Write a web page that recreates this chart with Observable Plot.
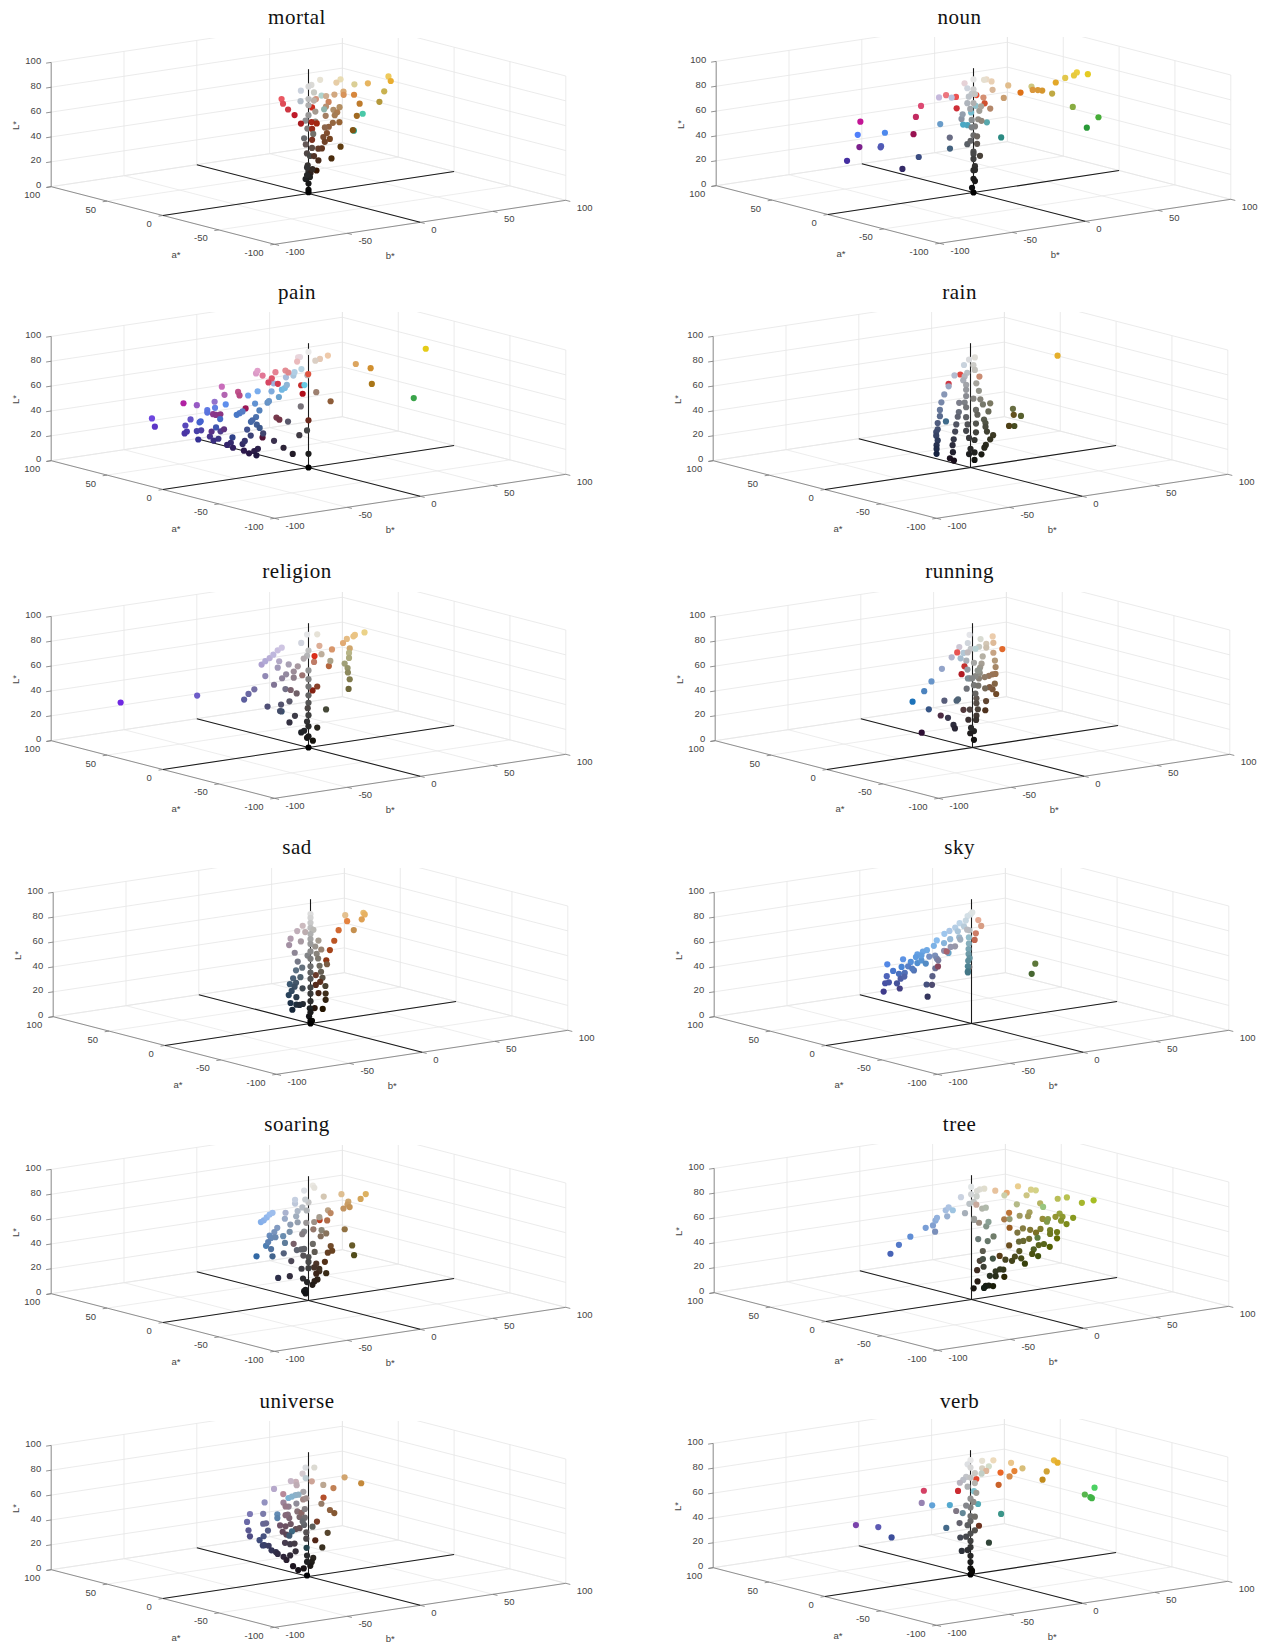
<!DOCTYPE html>
<html>
<head>
<meta charset="utf-8">
<script src="https://cdn.jsdelivr.net/npm/d3@7"></script>
<script src="https://cdn.jsdelivr.net/npm/@observablehq/plot@0.6"></script>
<style>
html,body{margin:0;padding:0;background:#fff;}
#page{position:relative;width:1265px;height:1644px;overflow:hidden;background:#fff;}
.panel{position:absolute;}
.ttl{position:absolute;font-family:"Liberation Serif",serif;font-size:21px;color:#111;transform:translate(-50%,-50%);letter-spacing:.5px;white-space:nowrap;}
</style>
</head>
<body>
<div id="page"></div>
<script>
// Every point is [L*, a*, b*].
const mortal=[[83,4,58],[75,15,68],[73,0,52],[64,3,51],[77,12,50],[83,-2,30],[88,0,22],[84,5,23],[90,0,8],[87,0,2],[86,0,0],[84,-1,-6],[81,-1,3],[82,-13,-1],[73,9,19],[72,12,27],[73,13,34],[67,22,41],[64,27,52],[58,22,52],[73,-42,5],[50,18,47],[59,-38,2],[40,15,42],[47,18,35],[48,16,29],[45,17,27],[46,14,22],[62,10,29],[61,9,24],[56,16,32],[55,13,28],[56,12,21],[62,25,33],[63,13,22],[71,-14,0],[67,22,22],[73,3,6],[76,-2,-7],[76,0,0],[58,58,26],[54,58,27],[48,60,32],[42,62,38],[46,62,50],[71,0,0],[64,3,7],[63,0,0],[59,0,-2],[56,3,7],[37,55,37],[38,52,42],[37,50,44],[52,1,0],[35,45,37],[45,0,-3],[47,1,4],[39,20,28],[37,18,24],[34,20,30],[33,18,25],[31,32,27],[38,5,2],[34,6,7],[29,13,32],[28,18,23],[29,16,19],[31,4,2],[30,0,1],[25,12,13],[21,12,25],[21,12,16],[22,2,1],[18,0,0],[12,15,17],[14,6,6],[13,0,1],[12,0,-2],[8,0,0],[3,0,0],[1,0,0],[18,3,5],[21,0,-1],[15,0,-1]];
const noun=[[84,0,71],[82,0,69],[82,-2,77],[81,0,63],[73,15,68],[80,-5,36],[70,0,54],[67,18,61],[68,18,58],[68,20,56],[60,40,63],[79,8,30],[68,12,30],[77,9,20],[85,6,17],[88,4,12],[89,1,8],[66,-25,49],[63,-48,49],[56,-48,41],[52,-30,-4],[64,-25,-10],[75,-15,-10],[72,-20,-17],[63,-22,-21],[64,-22,-24],[62,-8,-29],[66,25,26],[60,15,23],[52,50,46],[56,60,48],[57,60,34],[47,62,36],[64,48,18],[77,10,-16],[79,0,-15],[54,60,10],[45,62,8],[34,55,1],[45,70,-24],[32,50,-40],[55,15,-68],[57,5,-57],[43,15,-52],[41,18,-50],[28,35,-60],[21,18,-35],[33,6,-33],[40,-5,-20],[46,3,-14],[61,-1,-9],[65,-2,-9],[86,8,0],[91,0,0],[85,-1,-5],[83,0,0],[80,-1,-2],[79,0,1],[78,-1,-4],[73,-1,-5],[68,-1,-3],[65,0,4],[68,1,6],[72,0,0],[59,-1,-2],[58,1,4],[56,2,7],[53,0,1],[53,-1,-2],[46,0,0],[44,2,4],[40,-1,-5],[42,0,-2],[38,2,4],[33,0,0],[28,2,6],[31,0,0],[27,0,0],[21,0,1],[18,0,0],[18,0,1],[11,0,0],[9,0,1],[4,0,-1],[0,0,0]];
const pain=[[82,-2,79],[60,-46,37],[65,20,58],[54,15,55],[72,15,44],[44,18,29],[56,10,13],[84,10,21],[83,8,14],[84,3,7],[93,0,0],[88,5,-2],[87,8,-1],[80,18,6],[83,-8,-11],[74,1,0],[55,55,42],[45,60,41],[38,60,42],[76,-25,-22],[49,3,-3],[27,30,23],[30,0,-1],[26,3,-4],[11,0,0],[0,0,0],[38,4,-11],[33,30,1],[31,30,3],[22,10,-16],[16,8,-11],[11,5,-7],[18,32,-7],[30,8,-25],[29,10,-32],[16,14,-24],[14,16,-25],[11,14,-25],[12,18,-27],[14,20,-29],[21,16,-33],[24,14,-33],[29,12,-43],[22,20,-38],[20,22,-39],[17,22,-35],[26,22,-45],[24,25,-46],[27,27,-47],[29,32,-42],[31,24,-42],[30,30,-35],[38,15,-52],[26,27,-55],[33,27,-53],[33,27,-56],[32,32,-59],[30,34,-59],[37,32,-60],[42,30,-58],[43,18,-61],[44,17,-61],[35,45,-71],[42,45,-73],[43,65,-36],[49,40,-46],[53,15,-58],[51,15,-58],[55,12,-55],[54,28,-43],[59,5,-53],[38,45,-31],[37,45,-29],[37,45,-26],[46,10,-53],[54,40,-27],[59,45,-25],[51,50,-10],[48,50,-9],[66,-2,-43],[69,-4,-38],[59,-3,-39],[35,55,-1],[51,3,-45],[50,3,-47],[52,3,-43],[53,-3,-36],[47,0,-36],[43,2,-38],[44,2,-37],[35,8,-36],[40,2,-34],[37,2,-32],[59,-5,-32],[60,-5,-31],[68,-6,-30],[64,-10,-28],[71,-14,-29],[72,-14,-27],[72,-8,-21],[72,0,-24],[76,-2,-17],[78,-6,-15],[81,-7,-15],[71,30,-13],[73,30,-12],[63,45,3],[66,40,8],[56,55,17],[52,58,17],[49,60,25],[68,35,11],[66,35,13]];
const rain=[[75,12,69],[45,-8,23],[39,-10,27],[36,3,32],[31,-8,24],[28,2,28],[50,-2,12],[50,-2,7],[44,-3,10],[54,-1,6],[38,-3,7],[35,-3,8],[32,-3,8],[28,-3,9],[24,-2,14],[21,-2,12],[17,-2,9],[15,-2,8],[10,-2,6],[6,-1,2],[88,0,3],[87,0,-1],[84,-2,-6],[82,0,2],[77,-1,-3],[78,0,3],[64,22,23],[54,60,39],[48,60,31],[76,0,-11],[68,0,-15],[62,0,-18],[56,0,-20],[50,0,-21],[45,0,-21],[43,-8,-23],[39,2,-21],[34,2,-21],[32,2,-22],[29,2,-22],[25,2,-21],[21,3,-21],[18,3,-21],[14,3,-21],[46,0,-8],[42,1,-8],[36,1,-9],[30,2,-9],[24,2,-10],[19,3,-10],[13,4,-9],[7,8,-8],[5,7,-6],[53,1,-7],[74,0,-4],[71,0,-5],[67,0,-3],[63,0,-3],[58,0,-3],[53,0,-4],[67,0,4],[61,-1,5],[55,0,2],[49,0,-3],[46,-1,3],[42,-1,4],[41,0,-3],[35,0,-2],[35,-1,3],[30,0,-3],[28,-1,3],[24,0,-1],[22,-1,2],[15,0,0],[12,-1,2],[11,0,-1]];
const religion=[[37,60,-83],[45,28,-55],[42,12,-35],[46,12,-32],[49,12,-28],[68,12,-23],[71,10,-22],[73,10,-19],[76,8,-18],[79,8,-15],[81,7,-13],[70,8,-14],[65,8,-15],[59,10,-22],[51,10,-16],[56,8,-12],[59,7,-10],[67,6,-9],[64,7,-2],[60,8,-4],[55,8,-4],[53,16,8],[48,5,-12],[44,12,-3],[42,8,-2],[38,4,-10],[36,5,-15],[35,8,-22],[33,-2,-20],[32,2,-18],[26,3,-7],[21,4,-10],[37,30,29],[30,42,35],[52,30,37],[59,25,23],[49,65,54],[68,22,33],[75,15,19],[72,4,12],[67,0,15],[90,0,6],[91,0,-1],[85,0,-5],[78,0,0],[74,0,-1],[71,3,-1],[62,0,0],[55,0,0],[49,0,0],[42,0,0],[36,0,0],[31,2,1],[26,0,0],[21,0,-1],[17,0,0],[30,-4,9],[15,0,6],[13,0,-5],[14,0,-3],[8,0,-1],[5,0,3],[0,0,0],[9,0,0],[85,2,40],[82,8,38],[81,8,37],[79,10,34],[74,16,36],[71,10,36],[73,-5,24],[69,-5,24],[65,-5,21],[61,-5,23],[57,-4,24],[51,-3,26],[43,-2,26]];
const running=[[59,45,55],[84,8,20],[78,10,22],[70,10,22],[81,2,11],[78,2,11],[72,0,7],[65,6,20],[59,8,22],[52,12,25],[52,12,23],[52,10,19],[53,6,13],[54,2,6],[66,1,7],[63,1,6],[59,0,5],[45,10,23],[40,12,23],[35,14,27],[42,12,21],[45,3,11],[32,10,17],[24,12,18],[38,3,5],[34,3,5],[29,3,6],[24,3,5],[21,2,4],[29,5,2],[27,12,3],[21,5,1],[13,0,1],[11,2,0],[6,0,1],[43,0,2],[50,0,1],[48,0,-4],[49,0,4],[56,0,-2],[57,0,2],[62,-2,2],[62,-2,3],[68,0,1],[46,-5,-45],[53,-5,-37],[60,-5,-32],[67,0,-21],[36,0,-30],[40,3,-17],[23,18,-8],[25,5,-13],[19,4,-10],[16,4,-9],[10,22,-18],[42,-4,-13],[41,-4,-14],[74,3,-12],[81,4,-6],[75,-5,-12],[71,-1,-5],[57,58,34],[45,58,39],[39,58,37],[64,-2,-5],[79,-5,-10],[85,-1,-4],[91,0,-2],[87,-2,4],[81,-2,3],[80,-1,-2],[82,-8,-4],[76,3,-1],[58,-5,-7],[56,-1,-1],[16,0,-1]];
const sad=[[79,10,44],[76,14,48],[71,18,49],[80,8,30],[65,35,52],[57,40,50],[64,16,42],[49,40,47],[42,40,44],[35,38,40],[42,10,19],[65,2,7],[56,6,12],[61,1,4],[55,1,5],[51,1,6],[45,1,7],[40,1,8],[35,1,9],[28,1,11],[20,6,15],[15,6,15],[8,6,13],[9,8,9],[31,20,19],[25,20,22],[23,20,19],[18,15,17],[77,7,0],[73,8,-3],[72,6,1],[67,10,-6],[62,10,-7],[65,6,-2],[57,5,-7],[51,1,-8],[55,0,-2],[47,-3,-8],[46,-4,-13],[40,-4,-10],[40,-4,-15],[36,-5,-18],[36,-4,-13],[33,-4,-14],[30,-4,-16],[30,-2,-7],[24,-3,-12],[27,-4,-18],[18,-3,-12],[20,-3,-16],[17,-1,-6],[14,-2,-14],[17,-2,-9],[88,0,0],[85,0,0],[81,0,0],[77,0,0],[75,0,2],[72,0,0],[68,0,0],[64,0,0],[58,0,0],[52,0,0],[46,0,0],[41,0,0],[36,0,0],[29,0,0],[24,0,0],[18,0,0],[13,-2,-2],[6,0,-1],[2,0,0],[2,0,1],[0,0,0],[9,0,0]];
const sky=[[47,-18,30],[40,-20,26],[45,2,0],[75,20,20],[70,20,22],[61,30,26],[54,35,29],[89,-3,-3],[88,-3,-5],[85,-4,-7],[84,-5,-12],[81,-5,-9],[81,-5,-15],[76,-2,-3],[78,-6,-14],[79,-5,-19],[78,-7,-24],[74,-8,-30],[73,-6,-13],[73,-7,-20],[71,-8,-25],[70,-8,-32],[67,-7,-36],[66,-6,-38],[64,-5,-41],[62,-5,-42],[60,0,-47],[58,-3,-44],[57,-5,-41],[59,-6,-39],[56,-6,-36],[63,-6,-39],[59,0,-29],[59,0,-25],[56,1,-23],[60,5,-15],[64,-12,-25],[50,30,6],[63,3,-9],[63,3,-12],[56,5,-54],[54,0,-48],[50,5,-50],[47,5,-46],[53,2,-42],[49,2,-38],[51,1,-40],[47,5,-42],[44,12,-49],[37,16,-47],[38,14,-46],[29,20,-45],[37,12,-42],[31,16,-37],[41,10,-41],[43,8,-40],[35,5,-27],[33,8,-21],[24,8,-24],[41,5,-23],[47,5,-21],[39,30,0],[53,5,-19],[74,-12,-11],[69,-12,-11],[65,-13,-12],[61,-13,-12],[58,-14,-12],[56,-14,-13],[52,-15,-14],[48,-15,-14],[47,-15,-14],[76,0,-3],[70,-3,-10],[90,-2,-1]];
const soaring=[[75,10,47],[71,12,45],[79,7,28],[71,10,35],[68,12,36],[65,14,39],[65,13,34],[81,2,12],[68,6,18],[61,18,29],[53,25,32],[45,50,46],[65,2,9],[61,4,7],[62,2,0],[53,10,11],[55,0,9],[50,5,16],[48,6,13],[50,8,31],[39,0,30],[32,-3,29],[36,14,26],[32,14,27],[31,14,24],[24,14,22],[45,0,3],[38,1,5],[35,0,0],[20,6,12],[25,10,13],[18,5,16],[22,6,12],[23,8,10],[17,10,13],[14,5,10],[13,5,8],[11,3,5],[31,0,0],[26,1,-4],[26,0,0],[18,1,-3],[15,0,-1],[9,0,-2],[8,0,-3],[6,0,-2],[20,5,-9],[20,5,-17],[32,5,-8],[36,2,-2],[41,0,-17],[43,-3,-38],[41,-3,-27],[51,-5,-33],[47,-3,-28],[70,-3,-35],[71,-3,-33],[73,-3,-31],[75,-3,-29],[76,-3,-27],[63,-2,-23],[60,-2,-25],[58,-3,-29],[56,-3,-28],[53,-3,-30],[56,-3,-25],[57,-6,-22],[51,-5,-20],[59,-4,-16],[64,-2,-14],[69,-1,-17],[73,1,-15],[65,-2,-9],[70,-2,-10],[74,-2,-9],[80,-1,-10],[83,-1,-10],[76,-1,-5],[73,-1,-2],[79,0,0],[82,-1,-3],[89,0,-3],[92,0,3],[90,0,4],[56,0,-3],[53,3,-2],[43,12,-1],[42,0,-8],[42,0,-5],[42,0,-3]];
const tree=[[73,-22,67],[71,-18,62],[76,-15,54],[75,-12,50],[83,-8,38],[83,-5,37],[79,-5,34],[84,4,35],[75,18,38],[81,10,24],[88,-1,8],[88,-1,5],[87,-1,3],[91,-1,-1],[84,-1,-8],[85,-1,-1],[83,-2,2],[82,-6,18],[78,-2,-3],[79,-2,0],[72,10,11],[73,-3,5],[74,-5,6],[74,-8,25],[72,-8,41],[75,-25,30],[65,-5,36],[62,-5,35],[63,-4,30],[56,25,45],[55,15,34],[63,-8,20],[45,22,43],[36,8,32],[64,-15,49],[61,-15,51],[60,-10,50],[60,-18,56],[61,-15,41],[58,-5,45],[60,-18,38],[58,-15,50],[55,-16,53],[51,-7,42],[47,-3,42],[50,-3,38],[52,-3,33],[49,-2,30],[49,-14,48],[51,-13,44],[48,-13,44],[44,-6,35],[49,-20,30],[44,-14,48],[41,-14,39],[40,-12,37],[43,-6,31],[43,-6,28],[38,-14,43],[38,-14,32],[32,-14,35],[33,-10,34],[35,-5,29],[26,-10,29],[31,-5,26],[30,-8,28],[28,-5,24],[29,-3,21],[28,10,27],[34,-10,7],[22,-5,18],[22,-6,12],[23,-6,15],[18,-6,12],[15,-2,21],[19,-6,8],[11,-5,8],[11,-5,6],[10,-6,4],[10,-5,11],[8,2,3],[12,5,8],[20,8,10],[26,-3,6],[29,3,8],[33,-5,4],[38,-1,7],[48,-8,5],[51,-8,9],[50,-6,0],[60,-8,4],[64,-10,4],[59,5,9],[65,-1,1],[64,-1,1],[43,10,-48],[51,5,-46],[58,0,-42],[64,-2,-33],[65,-2,-28],[59,0,-25],[69,-3,-27],[71,-3,-26],[71,-3,-19],[76,-3,-20],[78,-3,-18],[77,-8,-19],[71,-2,-6]];
const universe=[[62,18,50],[71,12,34],[60,22,34],[70,5,14],[47,40,41],[54,8,15],[45,16,27],[42,16,30],[34,25,25],[31,5,17],[21,20,20],[21,2,11],[14,1,4],[11,1,3],[8,1,2],[12,0,-1],[17,0,-1],[1,0,-1],[87,0,4],[88,0,-2],[82,4,-1],[81,-4,-5],[71,14,13],[74,10,-1],[76,8,-6],[72,8,-2],[71,10,-16],[68,2,-2],[70,-8,-13],[70,-8,-15],[70,-12,-23],[70,-10,-19],[62,20,-2],[58,12,-8],[55,10,-6],[54,14,-5],[59,10,4],[61,6,3],[59,3,-6],[62,8,-24],[53,12,-31],[53,8,-25],[56,-6,-26],[53,-6,-26],[48,12,-5],[45,12,-4],[47,14,-5],[50,10,0],[46,8,0],[47,14,6],[54,2,-1],[47,2,-1],[47,12,-33],[45,8,-25],[45,8,-23],[40,12,-32],[35,12,-31],[40,5,-24],[36,5,-27],[33,6,-29],[28,7,-25],[28,7,-26],[27,7,-22],[23,7,-20],[21,7,-17],[19,8,-15],[16,8,-11],[13,8,-9],[8,6,-6],[5,4,-4],[17,6,-8],[20,5,-5],[27,8,-10],[26,6,-8],[26,6,-5],[6,3,-1],[27,-10,-9],[39,15,-8],[38,14,-5],[40,12,-3],[36,10,-1],[34,14,-7],[32,12,-6],[42,-10,-19],[37,-5,-17],[37,8,0],[35,2,0],[30,2,0],[42,0,-3],[45,0,-4],[40,-1,2]];
const verb=[[78,10,65],[75,12,69],[70,10,60],[62,15,61],[78,3,38],[65,35,57],[65,25,46],[82,8,34],[60,50,59],[54,40,50],[88,3,18],[90,0,8],[87,-6,8],[84,0,8],[77,12,20],[82,-6,3],[54,60,50],[75,-55,43],[67,-45,44],[66,-50,44],[65,-50,45],[56,-30,-2],[27,-10,5],[29,25,25],[65,-25,-14],[74,-20,-13],[46,62,39],[51,60,14],[65,-18,-28],[64,-10,-34],[58,15,-22],[51,5,-6],[54,-10,-13],[42,2,-6],[43,-7,-22],[35,12,-45],[42,20,-48],[39,40,-48],[92,0,0],[89,0,-2],[86,0,0],[81,0,3],[79,0,-3],[77,0,-5],[74,3,-5],[71,0,-2],[73,0,3],[78,0,0],[65,0,4],[61,0,0],[58,0,2],[54,0,0],[56,0,-3],[47,0,0],[46,0,3],[40,0,-2],[43,0,0],[35,0,3],[33,0,0],[31,0,-7],[31,0,-3],[27,0,0],[22,0,0],[20,0,-2],[20,0,-6],[15,0,0],[10,0,0],[5,0,0],[3,0,1],[0,0,0],[2,0,1]];

const abTicks=[-100,-50,0,50,100];
const lTicks=[0,20,40,60,80,100];

// Panels: name, points, origin of the a*/b* plane on the page, title centre.
const panels=[
 {name:"mortal",pts:mortal,ox:308.4,oy:192.7,tx:297,ty:17},
 {name:"noun",pts:noun,ox:973,oy:192.3,tx:959.6,ty:17},
 {name:"pain",pts:pain,ox:307.7,oy:467.3,tx:297,ty:292},
 {name:"rain",pts:rain,ox:969.6,oy:467,tx:959.6,ty:292},
 {name:"religion",pts:religion,ox:308.4,oy:746.7,tx:297,ty:571},
 {name:"running",pts:running,ox:971.5,oy:746.7,tx:959.6,ty:571},
 {name:"sad",pts:sad,ox:309.6,oy:1022.7,tx:297,ty:847},
 {name:"sky",pts:sky,ox:970.7,oy:1022.7,tx:959.6,ty:847},
 {name:"soaring",pts:soaring,ox:308.4,oy:1300,tx:297,ty:1124},
 {name:"tree",pts:tree,ox:970.7,oy:1299,tx:959.6,ty:1124},
 {name:"universe",pts:universe,ox:308.4,oy:1575.7,tx:297,ty:1401},
 {name:"verb",pts:verb,ox:969.6,oy:1574,tx:959.6,ty:1401}
];

// Fixed MATLAB-style view: projects (a*, b*, L*) to the two plot dimensions.
const px=(a,b)=>-1.117*a+1.456*b;
const py=(a,b,L)=>0.288*a+0.22*b+1.243*L;

const seg=(p,q)=>({p,q});
const floorGrid=[...abTicks.map(t=>seg([t,-100,0],[t,100,0])),...abTicks.map(t=>seg([-100,t,0],[100,t,0]))];
const wallGrid=[
 ...abTicks.map(t=>seg([100,t,0],[100,t,100])),
 ...lTicks.map(t=>seg([100,-100,t],[100,100,t])),
 ...abTicks.map(t=>seg([t,100,0],[t,100,100])),
 ...lTicks.map(t=>seg([100,100,t],[-100,100,t]))
];
const rulers=[seg([100,-100,0],[-100,-100,0]),seg([-100,-100,0],[-100,100,0]),seg([100,-100,0],[100,-100,100])];
const tickSegs=[
 ...abTicks.map(t=>seg([t,-100,0],[t,-103,0])),
 ...abTicks.map(t=>seg([-100,t,0],[-104,t,0])),
 ...lTicks.map(t=>seg([100,-100,t],[100,-103.5,t]))
];
const axesLines=[seg([0,-100,0],[0,100,0]),seg([-100,0,0],[100,0,0]),seg([0,0,0],[0,0,100])];

const linkMark=(data,stroke,strokeWidth)=>Plot.link(data,{
 x1:d=>px(d.p[0],d.p[1]),y1:d=>py(d.p[0],d.p[1],d.p[2]),
 x2:d=>px(d.q[0],d.q[1]),y2:d=>py(d.q[0],d.q[1],d.q[2]),
 stroke,strokeWidth,clip:"frame"
});
const font={fontFamily:"'Liberation Sans',Arial,sans-serif",fontSize:9.5,fill:"#444"};

const W=600,H=232,padL=308,padT=155;
const page=document.getElementById("page");

for(const p of panels){
 const chart=Plot.plot({
  width:W,height:H,margin:0,
  x:{domain:[-padL,W-padL],range:[0,W],axis:null},
  y:{domain:[padT-H,padT],range:[H,0],axis:null},
  color:{type:"identity"},
  marks:[
   linkMark(floorGrid,"#e9e9e9",0.8),
   linkMark(wallGrid,"#e6e6e6",0.8),
   linkMark(rulers,"#777",0.8),
   linkMark(tickSegs,"#777",0.8),
   linkMark(axesLines,"#1a1a1a",1.1),
   Plot.dot(p.pts,{
    x:d=>px(d[1],d[2]),y:d=>py(d[1],d[2],d[0]),
    fill:d=>d3.lab(d[0],d[1],d[2]).formatRgb(),
    r:3.1,stroke:"none"
   }),
   Plot.text(lTicks,{x:()=>px(100,-100),y:d=>py(100,-100,d),text:d=>String(d),textAnchor:"end",dx:-10,dy:-1.5,...font}),
   Plot.text(abTicks,{x:d=>px(d,-100),y:d=>py(d,-100,0),text:d=>String(d),textAnchor:"end",dx:-11,dy:8.5,...font}),
   Plot.text(abTicks,{x:d=>px(-100,d),y:d=>py(-100,d,0),text:d=>String(d),textAnchor:"start",dx:11,dy:8,...font}),
   Plot.text(["a*"],{x:()=>px(0,-100),y:()=>py(0,-100,0),text:d=>d,dx:13,dy:39,...font}),
   Plot.text(["b*"],{x:()=>px(-100,0),y:()=>py(-100,0,0),text:d=>d,dx:-30,dy:34,...font}),
   Plot.text(["L*"],{x:()=>px(100,-100),y:()=>py(100,-100,50),text:d=>d,dx:-35,dy:1,rotate:-90,...font})
  ]
 });
 const wrap=document.createElement("div");
 wrap.className="panel";
 wrap.style.left=(p.ox-padL)+"px";
 wrap.style.top=(p.oy-padT)+"px";
 wrap.appendChild(chart);
 page.appendChild(wrap);
 chart.style.background="transparent";
 const t=document.createElement("div");
 t.className="ttl";
 t.textContent=p.name;
 t.style.left=p.tx+"px";
 t.style.top=p.ty+"px";
 page.appendChild(t);
}
</script>
</body>
</html>
